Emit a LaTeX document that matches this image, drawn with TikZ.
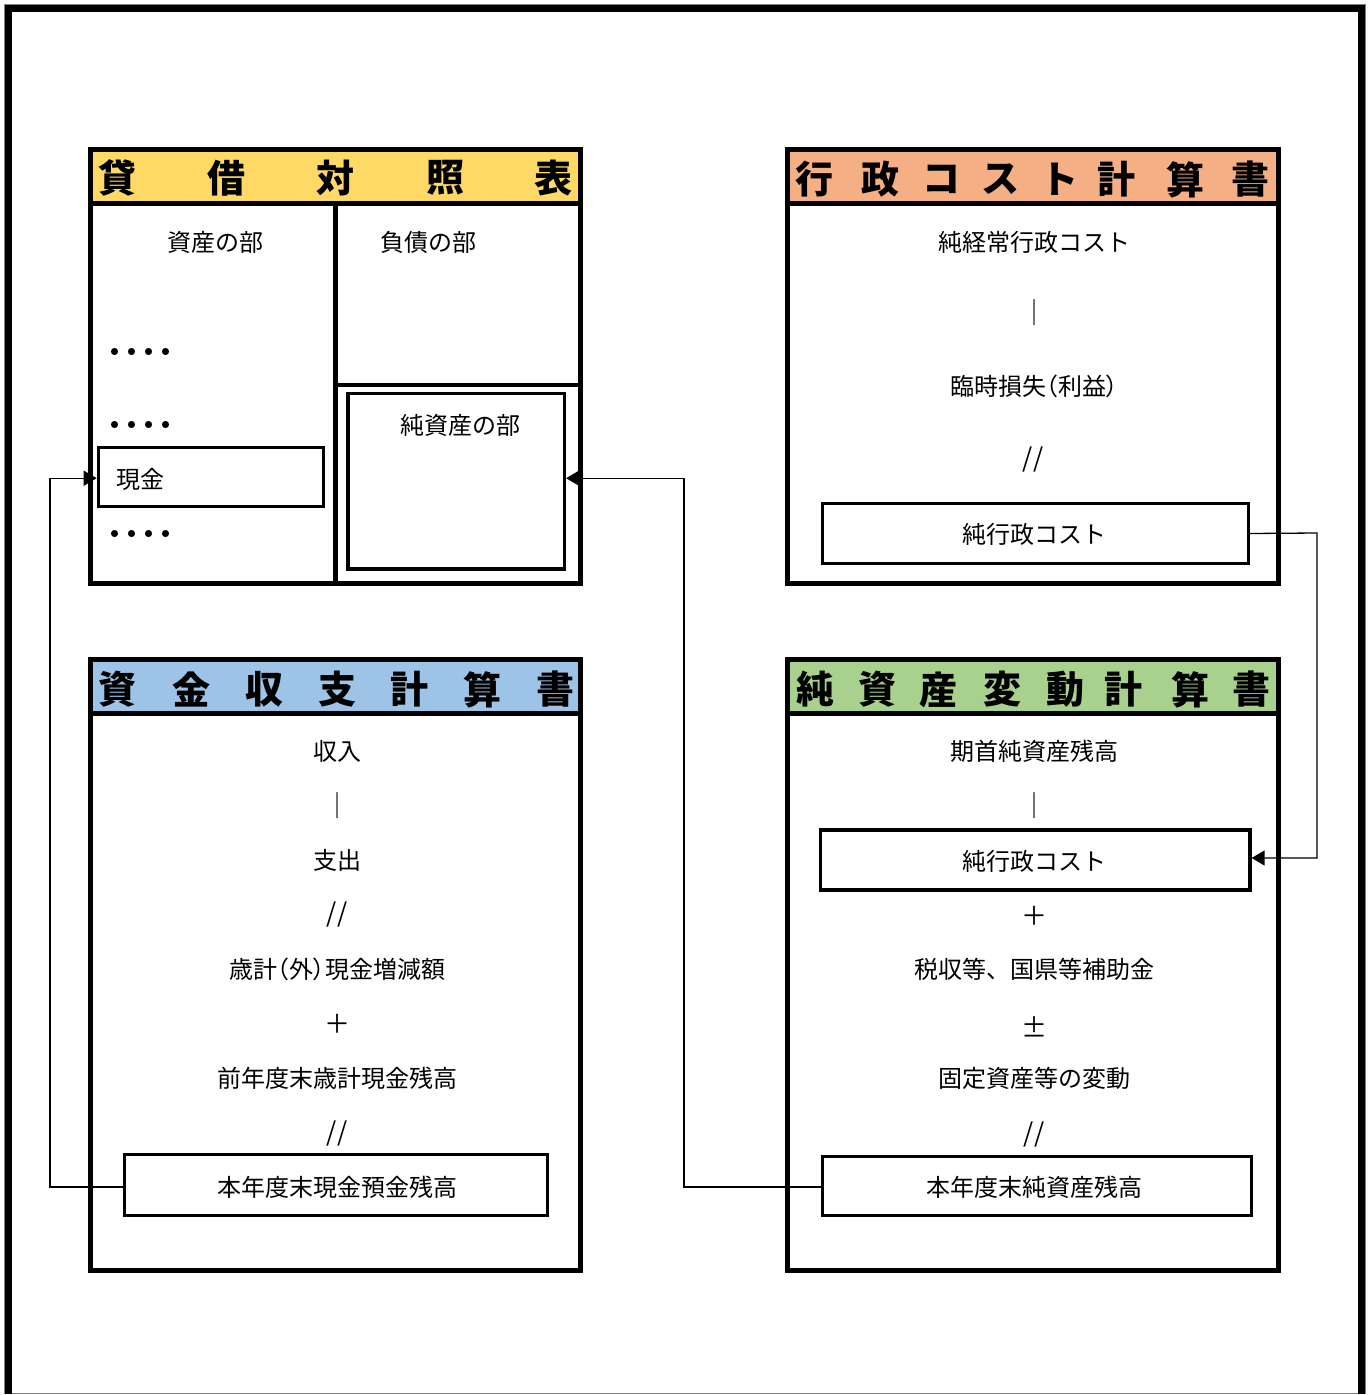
\documentclass[tikz,border=0pt]{standalone}
\usepackage{fontspec}
\setmainfont{Noto Sans CJK JP}
\newfontfamily\jpprop[RawFeature=+palt]{Noto Sans CJK JP}
\usetikzlibrary{arrows.meta}
\definecolor{hyellow}{HTML}{FFD966}
\definecolor{horange}{HTML}{F4B084}
\definecolor{hblue}{HTML}{9DC3E6}
\definecolor{hgreen}{HTML}{A9D18E}
\definecolor{framegray}{HTML}{808080}
\newcommand\dotrow{・\kern-8pt・\kern-8pt・\kern-8pt・}
\tikzset{
  sect/.style={draw, line width=4.5pt, inner sep=0pt, outer sep=0pt, anchor=center},
  hdrbox/.style={sect, fill=#1},
  ibox/.style={draw, line width=3.2pt, inner sep=0pt, outer sep=0pt, anchor=center, font=\fontsize{24}{27}\selectfont},
  lbl/.style={font=\fontsize{24}{27}\selectfont, inner sep=0pt},
  plbl/.style={font=\fontsize{24}{27}\selectfont\jpprop, inner sep=0pt},
  sym/.style={font=\fontsize{26}{28}\selectfont, inner sep=0pt},
  dots/.style={font=\fontsize{25}{27}\selectfont\bfseries, inner sep=0pt, anchor=west},
  hchar/.style={font=\fontsize{38}{40}\selectfont\bfseries, inner sep=0pt},
  arr/.style={line width=1.3pt, -{Triangle[length=13pt,width=15pt]}, shorten >=1.6pt},
}
\begin{document}
\begin{tikzpicture}[x=1pt,y=-1pt]
\useasboundingbox (0,0) rectangle (1370,1395);
% outer frame
\draw[framegray, line width=1pt] (4.5,4.5) rectangle (1365.5,1393.5);
\draw[line width=7pt] (8.5,1394) -- (8.5,8.5) -- (1361,8.5) -- (1361,1394);

% ---------- Balance sheet ----------
\node[sect, minimum width=490pt, minimum height=380pt] (bsbody) at (335.5,393.5) {};
\node[hdrbox=hyellow, minimum width=490pt, minimum height=54pt] (bshdr) at (335.5,176.5) {};
\foreach \x/\c [count=\i] in {117.5/貸,226/借,335/対,445/照,553/表}
  \node[hchar] (bsh\i) at (\x,178) {\c};
\draw[line width=4.5pt] (335.5,203.5) -- (335.5,583.5);
\draw[line width=4.5pt] (335.5,385) -- (580.5,385);
\node[lbl] (assets) at (215,242) {資産の部};
\node[lbl] (liab) at (428,242) {負債の部};
\node[dots] (d1) at (102,355) {\dotrow};
\node[dots] (d2) at (102,428) {\dotrow};
\node[dots] (d3) at (102,537) {\dotrow};
\node[ibox, minimum width=225pt, minimum height=59pt] (cash) at (210.8,477.2) {};
\node[lbl, anchor=west] (cashlbl) at (116,479) {現金};
\node[ibox, minimum width=216.5pt, minimum height=175.7pt] (napart) at (456.25,481.2) {};
\node[lbl] (napartlbl) at (460,425) {純資産の部};

% ---------- Cost statement ----------
\node[sect, minimum width=491pt, minimum height=380pt] (csbody) at (1033,393.5) {};
\node[hdrbox=horange, minimum width=491pt, minimum height=54pt] (cshdr) at (1033,176.5) {};
\foreach \x/\c [count=\i] in {814.5/行,880/政,941/コ,1000.5/ス,1059/ト,1116/計,1185/算,1250/書}
  \node[hchar] (csh\i) at (\x,179.5) {\c};
\node[lbl] (cs1) at (1034,242) {純経常行政コスト};
\node[sym] (cs2) at (1034,313) {｜};
\node[plbl] (cs3) at (1034,386) {臨時損失（利益）};
\node[sym] (cs4) at (1033,459) {//};
\node[ibox, minimum width=426pt, minimum height=60pt] (nc1) at (1035.5,533.5) {};
\node[lbl] (nc1lbl) at (1034,534) {純行政コスト};

% ---------- Cash flow statement ----------
\node[sect, minimum width=490pt, minimum height=557pt] (cfbody) at (335.5,992) {};
\node[hdrbox=hblue, minimum width=490pt, minimum height=54pt] (cfhdr) at (335.5,686.5) {};
\foreach \x/\c [count=\i] in {117/資,191/金,264/収,337/支,409/計,482/算,555/書}
  \node[hchar] (cfh\i) at (\x,689.5) {\c};
\node[lbl] (cf1) at (337,751) {収入};
\node[sym] (cf2) at (337,806) {｜};
\node[lbl] (cf3) at (337,860) {支出};
\node[sym] (cf4) at (337,914) {//};
\node[plbl] (cf5) at (337,969) {歳計（外）現金増減額};
\node[sym] (cf6) at (337,1024) {＋};
\node[lbl] (cf7) at (337,1078) {前年度末歳計現金残高};
\node[sym] (cf8) at (337,1133) {//};
\node[ibox, minimum width=423pt, minimum height=61pt] (cfbal) at (336,1185) {};
\node[lbl] (cfballbl) at (337,1187) {本年度末現金預金残高};

% ---------- Net assets statement ----------
\node[sect, minimum width=491pt, minimum height=557pt] (nabody) at (1033,992) {};
\node[hdrbox=hgreen, minimum width=491pt, minimum height=54pt] (nahdr) at (1033,686.5) {};
\foreach \x/\c [count=\i] in {815/純,877/資,938/産,1002/変,1065/動,1123/計,1190/算,1251/書}
  \node[hchar] (nah\i) at (\x,689.5) {\c};
\node[lbl] (na1) at (1034,751) {期首純資産残高};
\node[sym] (na2) at (1034,806) {｜};
\node[ibox, minimum width=429.5pt, minimum height=60pt] (nc2) at (1035.25,860) {};
\node[lbl] (nc2lbl) at (1034,861) {純行政コスト};
\node[sym] (na3) at (1034,916) {＋};
\node[lbl] (na4) at (1034,969) {税収等、国県等補助金};
\node[sym] (na5) at (1034,1027) {±};
\node[lbl] (na6) at (1034,1078) {固定資産等の変動};
\node[sym] (na7) at (1034,1134) {//};
\node[ibox, minimum width=429pt, minimum height=59pt] (nabal) at (1037,1186) {};
\node[lbl] (naballbl) at (1034,1187) {本年度末純資産残高};

% ---------- connectors ----------
\coordinate (k1) at (50,1187);
\coordinate (k2) at (684,1187);
\coordinate (k3) at (1317,533);
\draw[arr] ([yshift=-2pt]cfbal.west) -- (k1) |- ([yshift=-1pt]cash.west);
\draw[arr] ([yshift=-1pt]nabal.west) -- (k2) |- ([yshift=3pt]napart.east);
\draw[arr] (nc1.east) -- (k3) |- ([yshift=2pt]nc2.east);
\end{tikzpicture}
\end{document}
